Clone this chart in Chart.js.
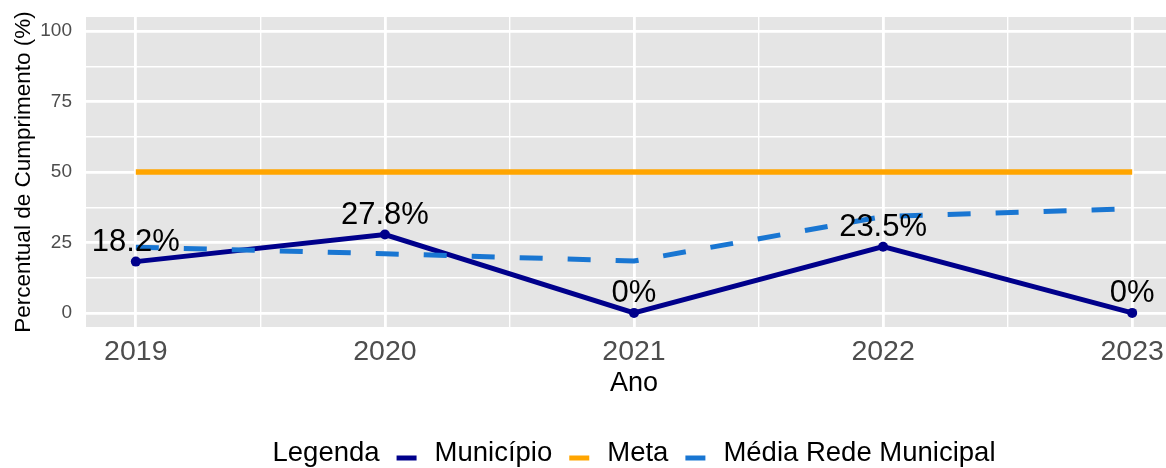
<!DOCTYPE html>
<html><head><meta charset="utf-8">
<script src="https://cdn.jsdelivr.net/npm/chart.js@4"></script>
<style>html,body{margin:0;padding:0;overflow:hidden;background:#fff;width:1166px;height:468px}canvas{display:block}</style>
</head><body>
<canvas id="c" width="1190" height="468"></canvas>
<script>
const years = [2019, 2020, 2021, 2022, 2023];
const municipio = [18.2, 27.8, 0, 23.5, 0];
const meta = [50, 50, 50, 50, 50];
const mediaRede = [23.3, 21.0, 18.4, 34.2, 37.0];
const municipioLabels = ['18.2%', '27.8%', '0%', '23.5%', '0%'];
const xTicks = [2019, 2019.5, 2020, 2020.5, 2021, 2021.5, 2022, 2022.5, 2023];
const yTicks = [0, 12.5, 25, 37.5, 50, 62.5, 75, 87.5, 100];
const legendTitle = 'Legenda';
const seriesNames = ['Município', 'Meta', 'Média Rede Municipal'];
const seriesColors = ['#00008B', '#FFA500', '#1976D2'];

const FONT = "'Liberation Sans', Arial, Helvetica, sans-serif";
const toXY = arr => arr.map((v, i) => ({x: years[i], y: v}));

const panelBg = {
  id: 'panelBg',
  beforeDraw(chart) {
    const {ctx, chartArea: a} = chart;
    ctx.save();
    ctx.fillStyle = '#E5E5E5';
    ctx.fillRect(a.left, a.top, a.right - a.left, a.bottom - a.top);
    ctx.restore();
  }
};

const pointLabels = {
  id: 'pointLabels',
  afterDatasetsDraw(chart) {
    const {ctx, scales: {x, y}} = chart;
    ctx.save();
    ctx.font = '31px ' + FONT;
    ctx.fillStyle = '#000';
    ctx.textAlign = 'center';
    ctx.textBaseline = 'alphabetic';
    municipio.forEach((v, i) => {
      ctx.fillText(municipioLabels[i], x.getPixelForValue(years[i]), y.getPixelForValue(v) - 11);
    });
    ctx.restore();
  }
};

const customLegend = {
  id: 'customLegend',
  afterDraw(chart) {
    const {ctx, chartArea: a} = chart;
    ctx.save();
    ctx.font = '27.5px ' + FONT;
    ctx.textBaseline = 'alphabetic';
    ctx.textAlign = 'left';
    const gapTextKey = 17, keyW = 20, gapKeyText = 18;
    let total = ctx.measureText(legendTitle).width;
    seriesNames.forEach(n => { total += gapTextKey + keyW + gapKeyText + ctx.measureText(n).width; });
    let x = (a.left + a.right) / 2 - total / 2;
    const base = 461, keyY = 458;
    ctx.fillStyle = '#000';
    ctx.fillText(legendTitle, x, base);
    x += ctx.measureText(legendTitle).width;
    seriesNames.forEach((n, i) => {
      x += gapTextKey;
      ctx.strokeStyle = seriesColors[i];
      ctx.lineWidth = 5;
      ctx.lineCap = 'butt';
      ctx.beginPath();
      ctx.moveTo(x, keyY);
      ctx.lineTo(x + keyW, keyY);
      ctx.stroke();
      x += keyW + gapKeyText;
      ctx.fillStyle = '#000';
      ctx.fillText(n, x, base);
      x += ctx.measureText(n).width;
    });
    ctx.restore();
  }
};

const zeroPad = s => { s.paddingTop = 0; s.paddingBottom = 0; s.paddingLeft = 0; s.paddingRight = 0; };

new Chart(document.getElementById('c'), {
  type: 'line',
  data: {
    datasets: [
      {
        label: seriesNames[0], data: toXY(municipio), borderColor: seriesColors[0],
        backgroundColor: seriesColors[0], borderWidth: 5, pointRadius: 5,
        pointBorderWidth: 0, pointBackgroundColor: seriesColors[0], tension: 0, order: 1
      },
      {
        label: seriesNames[1], data: toXY(meta), borderColor: seriesColors[1],
        borderWidth: 5.5, pointRadius: 0, tension: 0, order: 2
      },
      {
        label: seriesNames[2], data: toXY(mediaRede), borderColor: seriesColors[2],
        borderWidth: 5, borderDash: [23, 25], borderCapStyle: 'butt', pointRadius: 0, tension: 0, order: 0
      }
    ]
  },
  options: {
    responsive: false,
    animation: false,
    devicePixelRatio: 1,
    layout: {padding: {left: 0, right: 8, top: 17, bottom: 61}},
    plugins: {legend: {display: false}, tooltip: {enabled: false}},
    scales: {
      x: {
        type: 'linear', min: 2018.8, max: 2023.2,
        afterBuildTicks: s => { s.ticks = xTicks.map(v => ({value: v})); },
        afterFit: s => { s.height = 80; zeroPad(s); },
        ticks: {
          autoSkip: false, maxRotation: 0, padding: 11, color: '#4D4D4D',
          font: {family: FONT, size: 28.5, lineHeight: 1},
          callback: v => Number.isInteger(v) ? String(v) : ''
        },
        grid: {
          color: '#FFFFFF', drawTicks: false,
          lineWidth: c => (c.tick && Number.isInteger(c.tick.value)) ? 2.8 : 1.4
        },
        border: {display: false},
        title: {display: true, text: 'Ano', color: '#000', padding: {top: 0, bottom: 10},
          font: {family: FONT, size: 27, lineHeight: 1}}
      },
      y: {
        type: 'linear', min: -5, max: 105,
        afterBuildTicks: s => { s.ticks = yTicks.map(v => ({value: v})); },
        afterFit: s => { s.width = 86; zeroPad(s); },
        ticks: {
          padding: 14, color: '#4D4D4D', font: {family: FONT, size: 19, lineHeight: 1},
          callback: v => (v % 25 === 0) ? String(v) : ''
        },
        grid: {
          color: '#FFFFFF', drawTicks: false,
          lineWidth: c => (c.tick && c.tick.value % 25 === 0) ? 2.8 : 1.4
        },
        border: {display: false},
        title: {display: true, text: 'Percentual de Cumprimento (%)', color: '#000',
          padding: {top: 13, bottom: 0}, font: {family: FONT, size: 22.5, lineHeight: 1}}
      }
    }
  },
  plugins: [panelBg, pointLabels, customLegend]
});
</script>
</body></html>
